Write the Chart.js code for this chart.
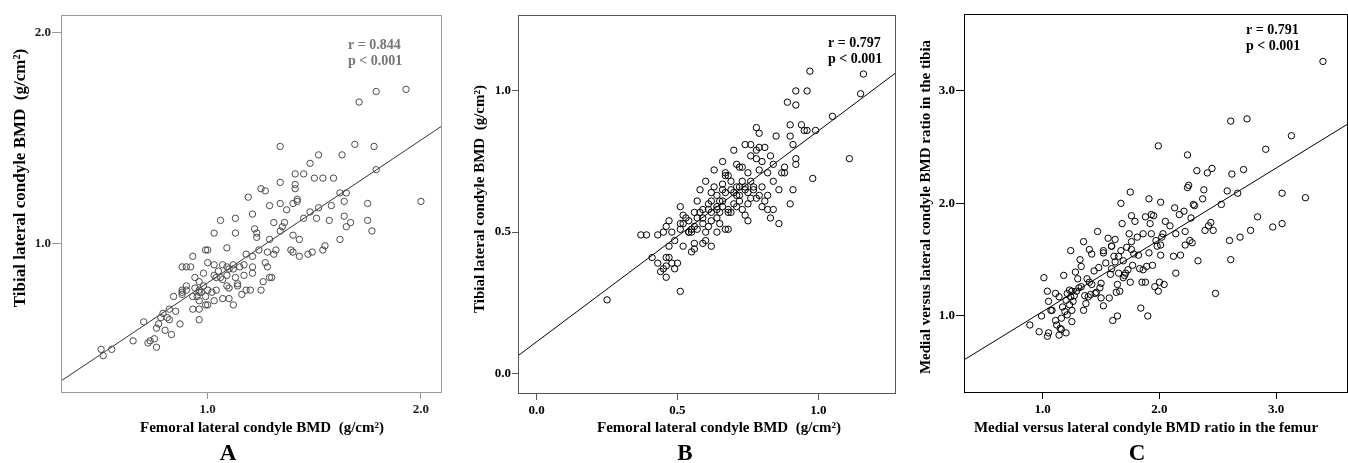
<!DOCTYPE html>
<html>
<head>
<meta charset="utf-8">
<script src="https://cdn.jsdelivr.net/npm/chart.js@4.4.1/dist/chart.umd.min.js"></script>
<style>
  html, body { margin: 0; padding: 0; background: #fff; width: 1348px; height: 463px; overflow: hidden; }
  .panel { position: absolute; top: 0; }
</style>
</head>
<body>
<div class="panel" style="left:0px"><canvas id="chartA" width="450" height="463"></canvas></div>
<div class="panel" style="left:450px"><canvas id="chartB" width="450" height="463"></canvas></div>
<div class="panel" style="left:900px"><canvas id="chartC" width="452" height="463"></canvas></div>
<script>
// A: femoral vs tibial lateral condyle BMD (g/cm2)
const femurA = [1.93,1.79,1.71,1.34,1.69,1.78,1.52,1.63,1.48,1.79,
  1.41,1.45,1.50,1.54,1.59,1.19,1.25,1.27,1.34,1.41,
  1.41,2.00,1.75,1.62,1.65,1.64,1.29,1.34,1.37,1.42,
  1.42,1.40,1.58,1.52,1.48,1.45,1.51,1.57,1.64,1.67,
  1.65,1.75,1.77,1.62,1.55,1.54,1.49,1.47,1.43,1.40,
  1.39,1.43,1.40,1.36,1.31,1.34,1.35,1.29,1.21,1.06,
  1.13,1.03,1.13,1.22,1.23,1.23,1.24,1.28,1.27,1.31,
  1.32,1.21,1.18,1.09,1.00,0.99,0.93,0.90,0.92,0.88,
  0.94,0.98,1.00,1.03,1.07,1.09,1.12,1.17,1.17,1.21,
  1.21,1.26,1.29,1.30,1.28,1.09,1.03,1.05,1.10,1.12,
  1.14,1.14,1.10,1.09,1.04,1.00,0.98,0.96,0.94,0.90,
  0.88,0.88,0.84,0.88,0.90,0.93,0.95,0.97,0.96,0.93,
  0.96,0.96,0.99,1.00,1.03,1.07,1.10,1.12,1.16,1.18,
  1.20,1.25,0.85,0.87,0.83,0.81,0.82,0.82,0.78,0.79,
  0.77,0.76,0.80,0.70,0.65,0.72,0.73,0.75,0.76,0.50,
  0.55,0.51,1.02,1.06,1.07,1.13,1.15,1.04,0.96,0.96,
  0.99];
const tibiaA = [1.73,1.72,1.67,1.46,1.47,1.46,1.42,1.42,1.38,1.35,
  1.33,1.33,1.31,1.31,1.31,1.22,1.26,1.25,1.29,1.28,
  1.26,1.20,1.19,1.24,1.24,1.20,1.18,1.19,1.16,1.21,
  1.20,1.19,1.18,1.17,1.15,1.12,1.12,1.11,1.13,1.10,
  1.08,1.11,1.06,1.02,0.99,0.97,0.96,0.95,0.94,0.96,
  0.97,1.02,1.04,1.10,1.10,1.06,1.08,1.02,1.14,1.11,
  1.12,1.05,1.05,1.07,1.03,1.05,0.97,0.96,0.91,0.95,
  0.97,0.94,0.95,0.98,0.97,0.97,0.94,0.89,0.89,0.89,
  0.84,0.86,0.91,0.90,0.90,0.89,0.90,0.90,0.85,0.89,
  0.86,0.82,0.84,0.84,0.89,0.85,0.85,0.87,0.88,0.88,
  0.81,0.80,0.79,0.80,0.78,0.78,0.80,0.78,0.79,0.80,
  0.78,0.77,0.75,0.76,0.78,0.75,0.75,0.77,0.73,0.69,
  0.69,0.64,0.71,0.71,0.73,0.74,0.74,0.71,0.76,0.78,
  0.78,0.78,0.68,0.62,0.57,0.65,0.69,0.64,0.65,0.67,
  0.62,0.60,0.59,0.63,0.54,0.53,0.54,0.55,0.51,0.50,
  0.50,0.47,0.77,0.84,0.83,0.84,0.89,0.84,0.82,0.77,
  0.75];
const fitA = [{ x: 0.312, y: 0.35 }, { x: 2.094, y: 1.554 }];

// B: femoral vs tibial lateral condyle BMD, second group
const femurB = [0.25,0.51,0.37,0.39,0.41,0.43,0.44,0.45,0.46,0.46,
  0.46,0.47,0.48,0.49,0.50,0.43,0.45,0.46,0.47,0.47,
  0.48,0.49,0.51,0.51,0.51,0.52,0.52,0.53,0.54,0.54,
  0.55,0.55,0.56,0.56,0.57,0.57,0.58,0.58,0.59,0.59,
  0.59,0.60,0.60,0.60,0.61,0.61,0.62,0.62,0.62,0.63,
  0.63,0.64,0.64,0.64,0.64,0.65,0.66,0.66,0.66,0.67,
  0.67,0.67,0.67,0.68,0.68,0.68,0.69,0.69,0.70,0.70,
  0.71,0.71,0.71,0.72,0.72,0.72,0.73,0.73,0.74,0.74,
  0.74,0.74,0.75,0.75,0.75,0.76,0.76,0.76,0.77,0.77,
  0.78,0.78,0.78,0.79,0.79,0.79,0.79,0.80,0.80,0.81,
  0.81,0.82,0.82,0.83,0.83,0.84,0.84,0.84,0.85,0.86,
  0.86,0.87,0.88,0.88,0.89,0.90,0.90,0.90,0.91,0.91,
  0.92,0.92,0.92,0.92,0.94,0.95,0.96,0.96,0.97,0.98,
  0.99,1.05,1.11,1.15,1.16,0.72,0.70,0.66,0.65,0.52,
  0.54,0.56,0.59,0.61,0.65,0.68,0.73,0.78,0.80,0.82,
  0.76,0.75,0.71,0.69,0.66,0.64,0.62,0.62,0.57,0.55,
  0.56];
const tibiaB = [0.26,0.29,0.49,0.49,0.41,0.39,0.36,0.37,0.34,0.38,
  0.41,0.41,0.39,0.37,0.39,0.49,0.50,0.52,0.54,0.45,
  0.50,0.47,0.51,0.59,0.53,0.45,0.56,0.55,0.54,0.50,
  0.43,0.51,0.46,0.52,0.61,0.55,0.65,0.57,0.58,0.53,
  0.55,0.47,0.68,0.50,0.58,0.60,0.45,0.54,0.61,0.72,
  0.66,0.63,0.50,0.55,0.59,0.61,0.75,0.65,0.61,0.70,
  0.51,0.71,0.64,0.51,0.58,0.70,0.57,0.68,0.64,0.79,
  0.59,0.74,0.63,0.66,0.73,0.63,0.73,0.68,0.65,0.56,
  0.81,0.66,0.71,0.60,0.54,0.77,0.81,0.68,0.65,0.66,
  0.76,0.79,0.87,0.85,0.63,0.72,0.80,0.66,0.75,0.80,
  0.61,0.58,0.71,0.55,0.77,0.68,0.74,0.58,0.84,0.65,
  0.53,0.71,0.73,0.71,0.96,0.84,0.88,0.60,0.65,0.81,
  1.00,0.74,0.76,0.95,0.88,0.86,1.00,0.86,1.07,0.69,
  0.86,0.91,0.76,0.99,1.06,0.61,0.60,0.59,0.57,0.53,
  0.50,0.44,0.46,0.52,0.53,0.57,0.58,0.62,0.59,0.63,
  0.62,0.64,0.66,0.65,0.67,0.58,0.64,0.57,0.51,0.50,
  0.57];
const fitB = [{ x: -0.066, y: 0.062 }, { x: 1.272, y: 1.062 }];

// C: medial / lateral BMD ratio, femur vs tibia
const ratioFemurC = [0.89,0.97,0.99,1.04,1.05,1.01,1.04,1.05,1.07,1.11,
  1.12,1.14,1.15,1.16,1.16,1.17,1.18,1.19,1.20,1.21,
  1.21,1.23,1.24,1.24,1.25,1.25,1.26,1.27,1.28,1.29,
  1.30,1.31,1.32,1.33,1.33,1.35,1.35,1.36,1.37,1.38,
  1.39,1.40,1.40,1.41,1.42,1.42,1.44,1.45,1.46,1.47,
  1.48,1.49,1.50,1.52,1.52,1.52,1.56,1.57,1.58,1.59,
  1.59,1.60,1.61,1.62,1.63,1.64,1.64,1.65,1.66,1.67,
  1.67,1.68,1.69,1.69,1.70,1.71,1.72,1.73,1.74,1.75,
  1.75,1.76,1.76,1.77,1.79,1.81,1.82,1.83,1.84,1.85,
  1.86,1.88,1.88,1.89,1.90,1.91,1.91,1.92,1.93,1.93,
  1.94,1.95,1.96,1.97,1.98,1.99,1.99,2.00,2.01,2.01,
  2.01,2.02,2.03,2.04,2.05,2.13,2.14,2.14,2.12,2.18,
  2.17,2.21,2.22,2.22,2.24,2.24,2.25,2.26,2.27,2.28,
  2.29,2.30,2.32,2.33,2.37,2.38,2.39,2.41,2.42,2.44,
  2.45,2.46,2.48,2.53,2.58,2.60,2.61,2.61,2.62,2.67,
  2.69,2.72,2.75,2.78,2.84,2.91,2.97,3.05,3.05,3.13,
  3.25,3.40,1.76,1.62,1.54,1.50,1.25,1.23,1.20,1.14,
  1.11,1.08,1.78,1.86,2.09,1.59,1.65];
const ratioTibiaC = [0.92,0.86,1.00,0.82,0.85,1.34,1.22,1.13,1.05,1.20,
  0.92,1.17,0.89,0.88,0.98,1.08,1.36,1.04,1.14,1.20,
  1.01,1.10,1.58,1.17,0.95,1.05,1.13,1.18,1.39,1.22,
  1.33,1.25,1.50,1.44,1.26,1.05,1.66,1.18,1.11,1.33,
  1.17,1.59,1.30,1.19,1.55,1.28,1.40,1.20,1.21,1.75,
  1.43,1.25,1.16,1.58,1.09,1.56,1.69,1.16,1.37,1.62,
  1.42,0.96,1.53,1.68,1.21,1.00,1.28,1.38,1.22,1.58,
  2.00,1.82,1.49,1.34,1.36,1.38,1.61,1.41,1.73,2.10,
  1.30,1.89,1.59,1.45,1.84,1.70,1.54,1.42,1.07,1.30,
  1.73,1.88,1.30,1.44,1.00,1.56,2.04,1.82,1.90,1.73,
  1.45,1.89,1.26,1.67,1.62,1.22,2.51,1.30,1.63,1.54,
  2.01,1.70,1.73,1.28,1.84,1.96,1.73,1.38,1.53,1.54,
  1.90,1.93,1.75,1.63,2.43,2.14,2.16,1.67,1.87,1.65,
  1.99,1.98,2.29,1.49,2.04,2.12,1.76,2.27,1.80,1.83,
  2.31,1.76,1.20,1.99,2.11,1.67,1.50,2.73,2.26,2.09,
  1.70,2.30,2.75,1.76,1.88,2.48,1.79,1.82,2.09,2.60,
  2.05,3.26,1.66,1.48,1.47,1.29,1.22,1.23,0.85,0.83,
  0.96,1.05,1.55,1.41,1.80,1.62,1.53];
const fitC = [{ x: 0.326, y: 0.61 }, { x: 3.606, y: 2.70 }];

// tick labels
const ticksAx = [1.0, 2.0], ticksAy = [1.0, 2.0];
const ticksBx = [0.0, 0.5, 1.0], ticksBy = [0.0, 0.5, 1.0];
const ticksCx = [1.0, 2.0, 3.0], ticksCy = [1.0, 2.0, 3.0];

const SERIF = '"Liberation Serif", "Times New Roman", serif';

// 테두리, 축 제목, r/p 값, 패널 문자 그리기
const panelText = {
  id: 'panelText',
  afterDatasetsDraw(chart, args, o) {
    const ctx = chart.ctx;
    const a = chart.chartArea;
    ctx.save();
    ctx.strokeStyle = o.frame;
    ctx.lineWidth = 1;
    ctx.strokeRect(Math.round(a.left) + 0.5, Math.round(a.top) + 0.5,
      Math.round(a.right - a.left), Math.round(a.bottom - a.top));

    ctx.fillStyle = o.noteColor;
    ctx.font = 'bold 14px ' + SERIF;
    ctx.textAlign = 'left';
    ctx.textBaseline = 'alphabetic';
    ctx.fillText(o.r, o.noteX, o.noteY);
    ctx.fillText(o.p, o.noteX, o.noteY + 16);

    ctx.fillStyle = '#000';
    ctx.font = 'bold 15px ' + SERIF;
    ctx.textAlign = 'center';
    ctx.fillText(o.xTitle, o.xTitleX, o.xTitleY);

    ctx.save();
    ctx.translate(o.yTitleX, o.yTitleY);
    ctx.rotate(-Math.PI / 2);
    ctx.font = 'bold ' + o.yTitleSize + 'px ' + SERIF;
    ctx.textBaseline = 'middle';
    ctx.fillText(o.yTitle, 0, 0);
    ctx.restore();

    ctx.font = 'bold 23px ' + SERIF;
    ctx.textBaseline = 'alphabetic';
    ctx.fillText(o.letter, o.letterX, 460);
    ctx.restore();
  }
};

function makePanel(id, p) {
  const points = p.xs.map((x, i) => ({ x: x, y: p.ys[i] }));
  const axis = (min, max, ticks, tl, pad, size) => ({
    type: 'linear',
    min: min,
    max: max,
    afterBuildTicks: s => { s.ticks = ticks.map(v => ({ value: v })); },
    afterFit: s => { if (s.isHorizontal()) s.height = size; else s.width = size; },
    grid: { drawOnChartArea: false, drawTicks: true, tickLength: tl, color: p.frame },
    border: { display: false },
    ticks: {
      color: p.tickColor,
      padding: pad,
      font: { family: SERIF, size: 13, weight: 'bold' },
      callback: v => v.toFixed(1)
    }
  });

  return new Chart(document.getElementById(id), {
    type: 'scatter',
    data: {
      datasets: [
        {
          data: points,
          showLine: false,
          pointStyle: 'circle',
          pointRadius: 3.2,
          pointBorderWidth: 1,
          pointBorderColor: p.pointColor,
          pointBackgroundColor: 'rgba(0,0,0,0)'
        },
        {
          data: p.fit,
          showLine: true,
          borderColor: p.lineColor,
          borderWidth: 1,
          pointRadius: 0
        }
      ]
    },
    options: {
      responsive: false,
      animation: false,
      devicePixelRatio: 1,
      layout: { padding: { left: 0, top: p.top, right: p.right, bottom: 0 } },
      plugins: {
        legend: { display: false },
        tooltip: { enabled: false },
        panelText: p.text
      },
      scales: {
        x: axis(p.xMin, p.xMax, p.xTicks, 7, 3, p.xAxisH),
        y: axis(p.yMin, p.yMax, p.yTicks, p.yTick, p.yPad, p.yAxisW)
      }
    },
    plugins: [panelText]
  });
}

makePanel('chartA', {
  xs: femurA, ys: tibiaA, fit: fitA,
  xMin: 0.312, xMax: 2.094, yMin: 0.298, yMax: 2.082,
  xTicks: ticksAx, yTicks: ticksAy,
  top: 15, right: 9, yAxisW: 61, xAxisH: 71, yTick: 9, yPad: 1,
  frame: '#9a9a9a', tickColor: '#222', pointColor: '#4a4a4a', lineColor: '#333',
  text: {
    frame: '#9a9a9a', noteColor: '#777', r: 'r = 0.844', p: 'p < 0.001', noteX: 348, noteY: 49,
    xTitle: 'Femoral lateral condyle BMD  (g/cm²)', xTitleX: 262, xTitleY: 432,
    yTitle: 'Tibial lateral condyle BMD  (g/cm²)', yTitleX: 21, yTitleY: 178, yTitleSize: 17,
    letter: 'A', letterX: 228
  }
});

makePanel('chartB', {
  xs: femurB, ys: tibiaB, fit: fitB,
  xMin: -0.066, xMax: 1.272, yMin: -0.070, yMax: 1.269,
  xTicks: ticksBx, yTicks: ticksBy,
  top: 15, right: 3, yAxisW: 68, xAxisH: 70, yTick: 6, yPad: 1,
  frame: '#555', tickColor: '#000', pointColor: '#000', lineColor: '#000',
  text: {
    frame: '#555', noteColor: '#000', r: 'r = 0.797', p: 'p < 0.001', noteX: 378, noteY: 47,
    xTitle: 'Femoral lateral condyle BMD  (g/cm²)', xTitleX: 269, xTitleY: 432,
    yTitle: 'Tibial lateral condyle BMD  (g/cm²)', yTitleX: 30, yTitleY: 199, yTitleSize: 15,
    letter: 'B', letterX: 235
  }
});

makePanel('chartC', {
  xs: ratioFemurC, ys: ratioTibiaC, fit: fitC,
  xMin: 0.326, xMax: 3.606, yMin: 0.325, yMax: 3.681,
  xTicks: ticksCx, yTicks: ticksCy,
  top: 14, right: 2, yAxisW: 64, xAxisH: 71, yTick: 8, yPad: 1,
  frame: '#000', tickColor: '#000', pointColor: '#000', lineColor: '#000',
  text: {
    frame: '#000', noteColor: '#000', r: 'r = 0.791', p: 'p < 0.001', noteX: 346, noteY: 34,
    xTitle: 'Medial versus lateral condyle BMD ratio in the femur', xTitleX: 246, xTitleY: 432,
    yTitle: 'Medial versus lateral condyle BMD ratio in the tibia', yTitleX: 26, yTitleY: 207, yTitleSize: 15,
    letter: 'C', letterX: 237
  }
});
</script>
</body>
</html>
